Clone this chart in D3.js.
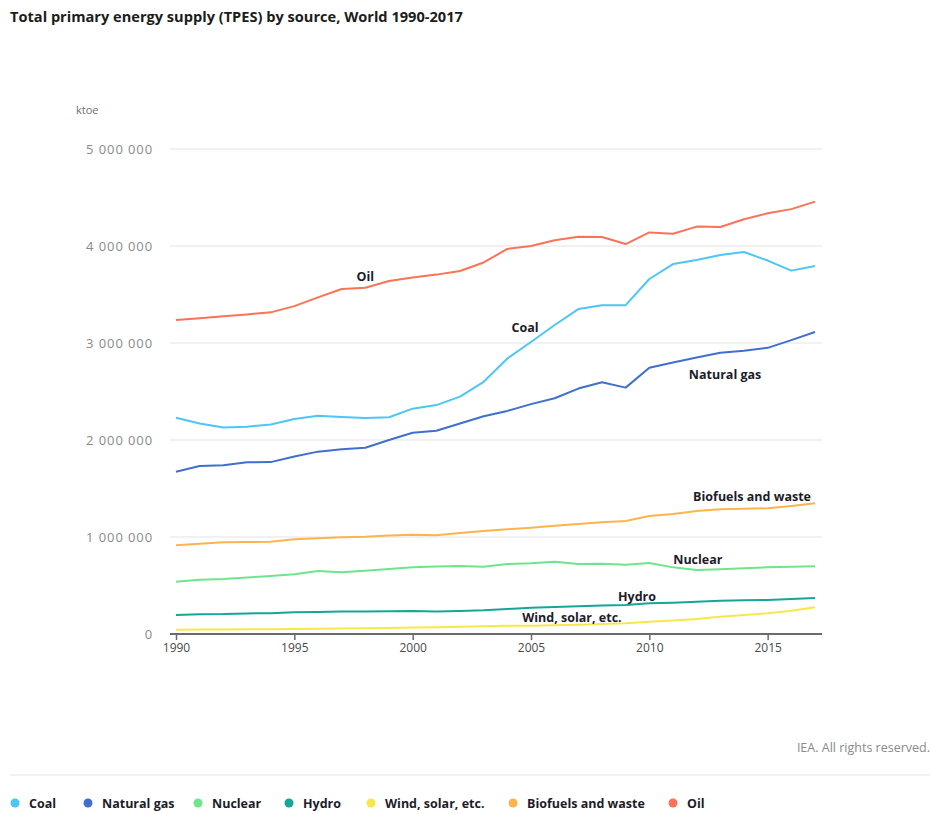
<!DOCTYPE html>
<html>
<head>
<meta charset="utf-8">
<script src="https://cdn.jsdelivr.net/npm/d3@7"></script>
<style>
  html, body { margin: 0; padding: 0; background: #fff; }
  svg { display: block; font-family: "Open Sans", Lato, sans-serif; }
</style>
</head>
<body>
<svg id="chart" width="930" height="814"></svg>
<script>
// Total primary energy supply by source, World, ktoe
const years = d3.range(1990, 2018);

const coal = [2230000, 2170000, 2130000, 2137000, 2160000, 2216000, 2250000, 2237000, 2227000, 2234000,
  2323000, 2360000, 2447000, 2600000, 2840000, 3010000, 3186000, 3350000, 3390000, 3390000,
  3660000, 3814000, 3856000, 3907000, 3938000, 3850000, 3746000, 3794000];
const naturalGas = [1673000, 1732000, 1739000, 1770000, 1772000, 1830000, 1880000, 1904000, 1920000, 2000000,
  2075000, 2096000, 2170000, 2245000, 2300000, 2370000, 2430000, 2530000, 2595000, 2540000,
  2745000, 2800000, 2850000, 2900000, 2920000, 2950000, 3030000, 3113000];
const nuclear = [539000, 560000, 567000, 582000, 597000, 615000, 649000, 636000, 653000, 670000,
  687000, 697000, 700000, 694000, 722000, 730000, 746000, 722000, 725000, 715000,
  732000, 687000, 660000, 667000, 677000, 687000, 693000, 698000];
const hydro = [196000, 204000, 205000, 212000, 215000, 223000, 228000, 232000, 233000, 235000,
  237000, 233000, 238000, 245000, 258000, 271000, 278000, 285000, 295000, 300000,
  316000, 322000, 332000, 343000, 348000, 350000, 360000, 371000];
const windSolar = [45000, 46000, 47000, 48000, 50000, 52000, 54000, 56000, 58000, 62000,
  68000, 70000, 74000, 80000, 84000, 86000, 90000, 96000, 104000, 112000,
  127000, 140000, 155000, 178000, 195000, 213000, 240000, 275000];
const biofuels = [914000, 930000, 945000, 948000, 952000, 976000, 987000, 997000, 1003000, 1015000,
  1024000, 1017000, 1040000, 1062000, 1080000, 1096000, 1115000, 1135000, 1152000, 1165000,
  1216000, 1237000, 1268000, 1285000, 1292000, 1296000, 1320000, 1347000];
const oil = [3237000, 3255000, 3275000, 3295000, 3316000, 3380000, 3470000, 3557000, 3570000, 3640000,
  3675000, 3705000, 3742000, 3830000, 3970000, 4000000, 4060000, 4096000, 4093000, 4020000,
  4140000, 4127000, 4200000, 4196000, 4275000, 4337000, 4380000, 4457000];

const seriesNames = ["Coal", "Natural gas", "Nuclear", "Hydro", "Wind, solar, etc.", "Biofuels and waste", "Oil"];
const seriesValues = [coal, naturalGas, nuclear, hydro, windSolar, biofuels, oil];
const seriesColors = ["#4dc6f5", "#3f6fcf", "#6ee58c", "#15a697", "#f8e74a", "#fdb44b", "#fb7256"];

const yTicks = [0, 1000000, 2000000, 3000000, 4000000, 5000000];
const xTicks = [1990, 1995, 2000, 2005, 2010, 2015];

// Inline labels: series index, anchor year, baseline value and text anchor
const lineLabels = [
  { s: 6, year: 1998.0, value: 3639000, anchor: "middle" },
  { s: 0, year: 2004.75, value: 3113000, anchor: "middle" },
  { s: 1, year: 2013.2, value: 2629000, anchor: "middle" },
  { s: 5, year: 2016.83, value: 1371000, anchor: "end" },
  { s: 2, year: 2012.05, value: 722000, anchor: "middle" },
  { s: 3, year: 2009.48, value: 340000, anchor: "middle" },
  { s: 4, year: 2006.73, value: 124000, anchor: "middle" }
];

const svg = d3.select("#chart");
const x = d3.scaleLinear().domain([1990, 2017]).range([176, 815]);
const y = d3.scaleLinear().domain([0, 5000000]).range([634, 149]);
const fmt = d3.formatLocale({ decimal: ".", thousands: " ", grouping: [3], currency: ["", ""] }).format(",d");

// Title
svg.append("text")
  .attr("x", 10).attr("y", 22)
  .attr("font-size", 14.6).attr("font-weight", 700).attr("fill", "#1c1c1c")
  .text("Total primary energy supply (TPES) by source, World 1990-2017");

// Unit
svg.append("text")
  .attr("x", 76).attr("y", 114)
  .attr("font-size", 11).attr("fill", "#707070")
  .text("ktoe");

// Gridlines
svg.append("g")
  .selectAll("line")
  .data(yTicks.filter(d => d > 0))
  .join("line")
  .attr("x1", 170).attr("x2", 822)
  .attr("y1", d => y(d)).attr("y2", d => y(d))
  .attr("stroke", "#ececec").attr("stroke-width", 1.5);

// Y axis labels
const yAxis = svg.append("g")
  .attr("transform", "translate(153,0)")
  .call(d3.axisLeft(y).tickValues(yTicks).tickFormat(fmt).tickSize(0).tickPadding(0));
yAxis.select(".domain").remove();
yAxis.selectAll("text")
  .attr("font-family", "'Open Sans', sans-serif")
  .attr("font-size", 13).attr("letter-spacing", 0.9).attr("fill", "#8a8a8a");

// Series lines
const line = d3.line().x((d, i) => x(years[i])).y(d => y(d));
svg.append("g")
  .selectAll("path")
  .data(seriesValues)
  .join("path")
  .attr("d", d => line(d))
  .attr("fill", "none")
  .attr("stroke", (d, i) => seriesColors[i])
  .attr("stroke-width", 2)
  .attr("stroke-linejoin", "round");

// X axis
const xAxis = svg.append("g")
  .attr("transform", "translate(0,634)")
  .call(d3.axisBottom(x).tickValues(xTicks).tickFormat(d3.format("d")).tickSize(6).tickPadding(3).tickSizeOuter(0));
xAxis.select(".domain")
  .attr("d", "M170,0H822")
  .attr("stroke", "#6b6b6b").attr("stroke-width", 2);
xAxis.selectAll(".tick line").attr("stroke", "#6b6b6b").attr("stroke-width", 1.5);
xAxis.selectAll("text")
  .attr("font-family", "'Open Sans', sans-serif")
  .attr("font-size", 12).attr("fill", "#4a4a4a");

// Inline series labels
svg.append("g")
  .selectAll("text")
  .data(lineLabels)
  .join("text")
  .attr("x", d => x(d.year)).attr("y", d => y(d.value))
  .attr("text-anchor", d => d.anchor)
  .attr("font-size", 12.5).attr("font-weight", 700).attr("fill", "#1c1c2a")
  .text(d => seriesNames[d.s]);

// Credit
svg.append("text")
  .attr("x", 930).attr("y", 752)
  .attr("text-anchor", "end")
  .attr("font-size", 12.5).attr("fill", "#8a8a8a")
  .text("IEA. All rights reserved.");

// Separator
svg.append("line")
  .attr("x1", 10).attr("x2", 930).attr("y1", 775).attr("y2", 775)
  .attr("stroke", "#e3e3e3").attr("stroke-width", 1);

// Legend
const legendX = [15, 88, 198, 289, 371, 513, 673];
const legend = svg.append("g")
  .selectAll("g")
  .data(seriesNames)
  .join("g")
  .attr("transform", (d, i) => `translate(${legendX[i]},803)`);
legend.append("circle")
  .attr("r", 4.5)
  .attr("fill", (d, i) => seriesColors[i]);
legend.append("text")
  .attr("x", 14).attr("y", 4.5)
  .attr("font-size", 12.5).attr("font-weight", 700).attr("fill", "#1c1c2a")
  .text(d => d);
</script>
</body>
</html>
